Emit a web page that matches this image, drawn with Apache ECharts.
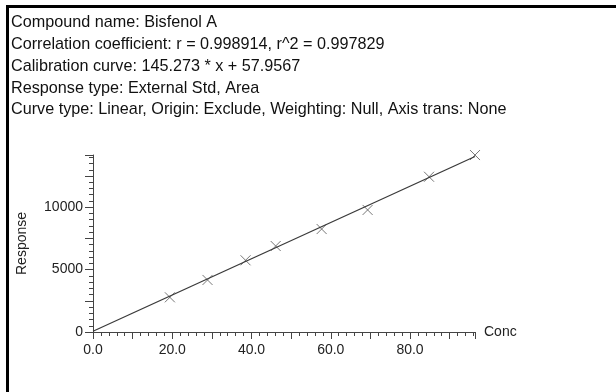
<!DOCTYPE html>
<html>
<head>
  <meta charset="utf-8">
  <title>Calibration curve - Bisfenol A</title>
  <script src="https://cdn.jsdelivr.net/npm/echarts@6/dist/echarts.min.js"></script>
  <style>
    html, body { margin: 0; padding: 0; background: #fff; }
  </style>
</head>
<body>
  <div id="chart" style="width: 616px; height: 392px;"></div>

  <script>
    // header lines
    const infoLines = [
      'Compound name: Bisfenol A',
      'Correlation coefficient: r = 0.998914, r^2 = 0.997829',
      'Calibration curve: 145.273 * x + 57.9567',
      'Response type: External Std, Area',
      'Curve type: Linear, Origin: Exclude, Weighting: Null, Axis trans: None'
    ];

    // calibration points
    const conc = [19.4, 28.9, 38.5, 46.1, 57.7, 69.3, 84.8, 96.4];
    const response = [2780, 4170, 5745, 6890, 8250, 9780, 12440, 14180];

    // fitted line ends
    const lineConc = [0, 96.4];
    const lineResp = [58, 14062];

    const xMax = 96.4;
    const yMax = 14183;

    const crossPath = 'path://M0,0L10,10M10,0L0,10';

    const chart = echarts.init(document.getElementById('chart'));

    const fontFam = '"Liberation Sans", Arial, sans-serif';

    chart.setOption({
      animation: false,
      textStyle: { fontFamily: fontFam },
      graphic: [
        {
          type: 'rect',
          shape: { x: 7.5, y: 6.5, width: 700, height: 500 },
          style: { fill: 'none', stroke: '#000', lineWidth: 3 }
        },
        {
          type: 'group',
          left: 11,
          top: 15,
          children: infoLines.map((t, i) => ({
            type: 'text',
            x: 0,
            y: i * 21.7,
            style: { text: t, fill: '#111', font: '16.2px ' + fontFam }
          }))
        }
      ],
      grid: { left: 93, top: 155, width: 382, height: 177 },
      xAxis: {
        type: 'value',
        min: 0,
        max: xMax,
        interval: 10,
        name: 'Conc',
        nameLocation: 'end',
        nameGap: 9,
        nameTextStyle: { color: '#222', fontSize: 14, verticalAlign: 'middle' },
        splitLine: { show: false },
        axisLine: { lineStyle: { color: '#444', width: 1 } },
        axisTick: { inside: false, length: 7, lineStyle: { color: '#444' } },
        minorTick: { show: true, splitNumber: 5, length: 4, lineStyle: { color: '#444' } },
        axisLabel: {
          color: '#222',
          fontSize: 14,
          margin: 11,
          showMaxLabel: false,
          formatter: v => (Math.abs(v % 20) < 1e-6 ? v.toFixed(1) : '')
        }
      },
      yAxis: {
        type: 'value',
        min: 0,
        max: yMax,
        interval: 2500,
        name: 'Response',
        nameLocation: 'middle',
        nameGap: 64,
        nameRotate: 90,
        nameTextStyle: { color: '#222', fontSize: 14 },
        splitLine: { show: false },
        axisLine: { lineStyle: { color: '#444', width: 1 } },
        axisTick: { inside: false, length: 8, lineStyle: { color: '#444' } },
        minorTick: { show: true, splitNumber: 5, length: 4, lineStyle: { color: '#444' } },
        axisLabel: {
          color: '#222',
          fontSize: 14,
          margin: 10,
          showMaxLabel: false,
          formatter: v => (Math.abs(v % 5000) < 1e-6 ? String(v) : '')
        }
      },
      series: [
        {
          type: 'line',
          data: lineConc.map((x, i) => [x, lineResp[i]]),
          showSymbol: false,
          lineStyle: { color: '#3a3a3a', width: 1.3 },
          silent: true
        },
        {
          type: 'scatter',
          data: conc.map((x, i) => [x, response[i]]),
          symbol: crossPath,
          symbolSize: 10,
          itemStyle: { color: 'none', borderColor: '#555', borderWidth: 1 }
        }
      ]
    });
  </script>
</body>
</html>
